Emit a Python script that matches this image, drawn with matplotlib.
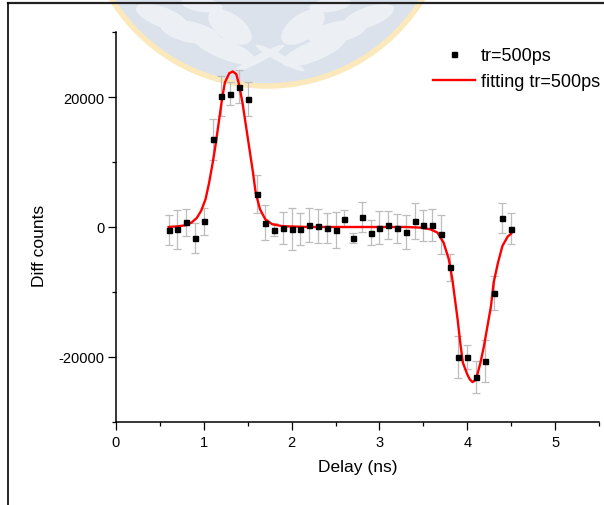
import matplotlib
matplotlib.use("Agg")
import matplotlib.pyplot as plt
from matplotlib.patches import Circle, Ellipse
from matplotlib.lines import Line2D

plt.rcParams['font.family'] = ['Liberation Sans', 'DejaVu Sans']
plt.rcParams['axes.unicode_minus'] = False

# measured points (delay in ns, difference counts, error)
delay = [0.6, 0.7, 0.8, 0.9, 1.0, 1.1, 1.2, 1.3, 1.4, 1.5,
         1.6, 1.7, 1.8, 1.9, 2.0, 2.1, 2.2, 2.3, 2.4, 2.5,
         2.6, 2.7, 2.8, 2.9, 3.0, 3.1, 3.2, 3.3, 3.4, 3.5,
         3.6, 3.7, 3.8, 3.9, 4.0, 4.1, 4.2, 4.3, 4.4, 4.5]
counts = [-460, -360, 720, -1700, 880, 13500, 20150, 20570, 21620, 19690,
          5130, 680, -400, -200, -250, -300, 310, 100, -150, -460,
          1240, -1700, 1540, -870, -100, 260, -200, -770, 930, 260,
          310, -1130, -6210, -20050, -20050, -23180, -20660, -10150, 1340, -300]
errors = [2260, 3030, 2100, 2310, 2080, 3180, 3080, 1700, 2580, 2620,
          2940, 2750, 1000, 2440, 3240, 2440, 2570, 2600, 2340, 2800,
          1310, 720, 2290, 1980, 2540, 2130, 2210, 2670, 2830, 2360,
          2520, 3030, 2110, 3190, 1880, 2470, 3290, 2650, 2310, 2390]

# fitted curve
fit_x = [0.60, 0.70, 0.79, 0.86, 0.92, 0.97, 1.02, 1.06, 1.10, 1.13, 1.17,
         1.21, 1.24, 1.29, 1.33, 1.37, 1.40, 1.44, 1.48, 1.52, 1.56,
         1.59, 1.64, 1.70, 1.78, 1.90, 2.20, 2.60, 3.00, 3.30, 3.47,
         3.58, 3.66, 3.73, 3.79, 3.83, 3.86, 3.89, 3.92, 3.95, 4.00,
         4.03, 4.06, 4.09, 4.11, 4.15, 4.19, 4.23, 4.27, 4.30, 4.35,
         4.40, 4.46, 4.50]
fit_y = [0, 100, 260, 680, 1400, 2500, 4300, 6800, 9800, 12300, 16100,
         19950, 22270, 23700, 23960, 23550, 22000, 19180, 15570, 11980, 8390,
         5300, 2730, 1190, 420, 120, 0, 0, 0, 0, -100,
         -350, -860, -2400, -4980, -8070, -11150, -14230, -17830, -20910, -22710,
         -23500, -23900, -23600, -22980, -20910, -18350, -15270, -12180, -8570, -5490,
         -2930, -1480, -1020]

fig = plt.figure(figsize=(6.04, 5.06), dpi=100)

# faint logo watermark behind the plot
wm = fig.dpi_scale_trans
fig.add_artist(Circle((2.67, 6.015), 1.825, transform=wm, facecolor='#dbe2ec',
                      edgecolor='#fbe9bc', linewidth=4, zorder=-2))
leaves = [(1.62, 4.88, 0.55, 0.20, -20), (1.90, 4.73, 0.60, 0.21, -12),
          (2.30, 4.78, 0.26, 0.50, 55), (2.24, 4.56, 0.68, 0.20, -22),
          (2.02, 5.00, 0.42, 0.14, -8), (3.37, 4.73, 0.60, 0.21, 12),
          (3.68, 4.88, 0.55, 0.20, 20), (3.03, 4.78, 0.26, 0.50, -55),
          (3.14, 4.54, 0.68, 0.20, 22), (3.30, 5.00, 0.42, 0.14, 8),
          (2.60, 4.47, 0.55, 0.08, 28), (2.80, 4.47, 0.55, 0.08, -28)]
for cx, cy, w, h, ang in leaves:
    fig.add_artist(Ellipse((cx, cy), w, h, angle=ang, transform=wm,
                           facecolor='#eceff4', edgecolor='none', zorder=-1))

# slide frame (top and left edges)
fig.add_artist(Line2D([8 / 604, 1], [1 - 4.3 / 506, 1 - 4.3 / 506], color='#222222', lw=1.6, zorder=5))
fig.add_artist(Line2D([8 / 604, 8 / 604], [0, 1 - 4.3 / 506], color='black', lw=1.2, zorder=5))

ax = fig.add_axes([116 / 604, 1 - 422.7 / 506, 483 / 604, 389.4 / 506])
ax.patch.set_visible(False)

ax.errorbar(delay, counts, yerr=errors, fmt='none', ecolor='#bdbdbd',
            elinewidth=0.9, capsize=2.8, capthick=0.9, zorder=2)
ax.plot(delay, counts, 's', color='black', markersize=3.6, label='tr=500ps', zorder=4)
ax.plot(fit_x, fit_y, color='red', lw=1.7, label='fitting tr=500ps', zorder=3)

ax.set_xlim(0, 5.5)
ax.set_ylim(-30000, 30000)
ax.set_xticks([0, 1, 2, 3, 4, 5])
ax.set_xticks([0.5, 1.5, 2.5, 3.5, 4.5, 5.5], minor=True)
ax.set_yticks([-20000, 0, 20000])
ax.set_yticks([-30000, -10000, 10000, 30000], minor=True)

for side in ['top', 'right']:
    ax.spines[side].set_visible(False)
for side in ['left', 'bottom']:
    ax.spines[side].set_linewidth(1.1)

ax.tick_params(which='major', direction='out', length=5.5, width=0.9, labelsize=10.5)
ax.tick_params(axis='x', which='major', pad=4.0)
ax.tick_params(axis='y', which='major', pad=3.0)
ax.tick_params(which='minor', direction='out', length=3, width=0.9)

ax.set_xlabel('Delay (ns)', fontsize=12.5, labelpad=7)
ax.set_ylabel('Diff counts', fontsize=12.5)
ax.yaxis.set_label_coords(-0.143, 0.455)

ax.legend(loc='upper left', bbox_to_anchor=(433 / 604, 1 - 48 / 506),
          bbox_transform=fig.transFigure, frameon=False, fontsize=13,
          borderpad=0, borderaxespad=0, handlelength=2.3, handletextpad=0.35,
          labelspacing=0.5, numpoints=1)

fig.savefig('out.png', dpi=100)
